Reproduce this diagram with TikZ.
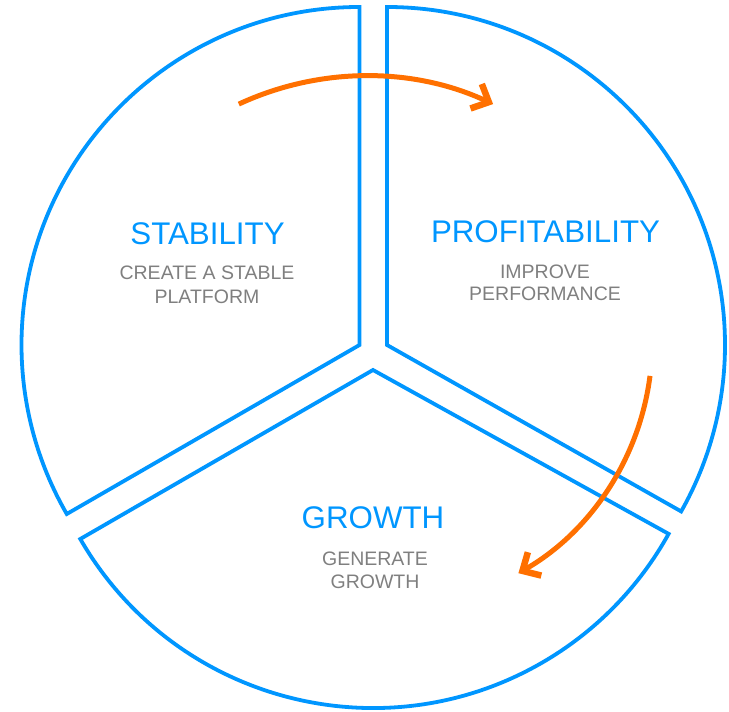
\documentclass[tikz,border=0pt]{standalone}
\usepackage{fontspec}
\setmainfont{Liberation Sans}
\usetikzlibrary{arrows.meta}
\definecolor{pieblue}{RGB}{0,150,255}
\definecolor{subgray}{RGB}{127,127,127}
\definecolor{arroworange}{RGB}{255,112,0}
\begin{document}
\begin{tikzpicture}[x=1pt,y=1pt,
  sector/.style={draw=pieblue,line width=3.8pt},
  title/.style={text=pieblue,font=\fontsize{31.3}{37}\selectfont,anchor=base,inner sep=0pt},
  sub/.style={text=subgray,font=\fontsize{19.5}{23}\selectfont,anchor=base,inner sep=0pt},
  flow/.style={draw=arroworange,line width=5pt,-{Straight Barb[length=14pt,width=27pt,line width=6.5pt]}}]
\useasboundingbox (0,0) rectangle (729,712);
\coordinate (cL) at (359.5,367);
\coordinate (cR) at (387,367);
\coordinate (cB) at (373,342);
\draw[sector] (cL) -- ++(90:338) arc[start angle=90,end angle=210,radius=338] -- cycle;
\draw[sector] (cR) -- ++(90:338) arc[start angle=90,end angle=-29.5,radius=338] -- cycle;
\draw[sector] (cB) -- ++(210:338) arc[start angle=210,end angle=331,radius=338] -- cycle;
\node[title] (t1) at (207.5,467) {STABILITY};
\node[sub] (s1a) at (207,432) {CREATE A STABLE};
\node[sub] (s1b) at (207,408.7) {PLATFORM};
\node[title] (t2) at (545.5,469.7) {PROFITABILITY};
\node[sub] (s2a) at (545,433) {IMPROVE};
\node[sub] (s2b) at (545,411) {PERFORMANCE};
\node[title] (t3) at (373,183) {GROWTH};
\node[sub] (s3a) at (375,146) {GENERATE};
\node[sub] (s3b) at (375,123.7) {GROWTH};
\coordinate (a1) at (238.8,607.9);
\coordinate (a2) at (650,336.1);
\draw[flow] (a1) arc[start angle=114.9,end angle=65.1,radius=302];
\draw[flow] (a2) arc[start angle=-7.3,end angle=-60.1,radius=266.7];
\end{tikzpicture}
\end{document}
